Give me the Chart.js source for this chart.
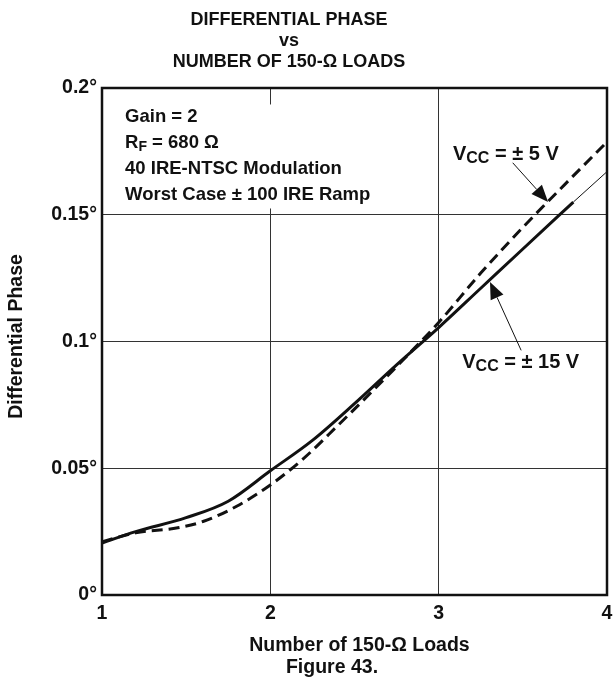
<!DOCTYPE html>
<html>
<head>
<meta charset="utf-8">
<script src="https://cdn.jsdelivr.net/npm/chart.js@4"></script>
<style>
  html, body { margin: 0; padding: 0; background: #fff; }
  #wrap { width: 614px; height: 681px; }
</style>
</head>
<body>
<div id="wrap"><canvas id="myChart" width="614" height="681"></canvas></div>
<script>
// VCC = +-15 V (solid)
const loads15 = [1, 1.2, 1.5, 1.75, 2, 2.25, 2.5, 2.75, 3, 3.25, 3.5, 3.8];
const phase15 = [0.0205, 0.0250, 0.0305, 0.0370, 0.0490, 0.0610, 0.0755, 0.0908, 0.1055, 0.1210, 0.1365, 0.1550];
// thin continuation of the solid curve
const loads15Ext = [3.8, 4];
const phase15Ext = [0.1550, 0.1670];
// VCC = +-5 V (dashed)
const loads5 = [1, 1.2, 1.45, 1.6, 1.8, 2, 2.2, 2.4, 2.6, 2.8, 3, 3.25, 3.5, 3.75, 4];
const phase5 = [0.0210, 0.0245, 0.0265, 0.0290, 0.0350, 0.0434, 0.0540, 0.0668, 0.0800, 0.0935, 0.1075, 0.1270, 0.1450, 0.1620, 0.1787];

const xTickLabels = ["1", "2", "3", "4"];
const yTickLabels = ["0°", "0.05°", "0.1°", "0.15°", "0.2°"];

const titleLines = ["DIFFERENTIAL PHASE", "vs", "NUMBER OF 150-Ω LOADS"];
const xTitle = "Number of 150-Ω Loads";
const yTitle = "Differential Phase";
const caption = "Figure 43.";

const FONT = "'Liberation Sans', Arial, Helvetica, sans-serif";

function toPoints (xs, ys) {
  return xs.map((x, i) => ({ x: x, y: ys[i] }));
}

// draws text with subscript parts, left aligned at baseline y
function drawRich (ctx, parts, x, y, size) {
  let cx = x;
  parts.forEach(p => {
    let fs = p.sub ? Math.round(size * 0.78) : size;
    ctx.font = `bold ${fs}px ${FONT}`;
    ctx.fillText(p.t, cx, p.sub ? y + 3 : y);
    cx += ctx.measureText(p.t).width;
  });
  return cx - x;
}

function arrow (ctx, x1, y1, x2, y2) {
  let ang = Math.atan2(y2 - y1, x2 - x1);
  let len = 17, half = 7;
  let bx = x2 - len * Math.cos(ang), by = y2 - len * Math.sin(ang);
  ctx.lineWidth = 1;
  ctx.beginPath();
  ctx.moveTo(x1, y1);
  ctx.lineTo(bx, by);
  ctx.stroke();
  ctx.beginPath();
  ctx.moveTo(x2, y2);
  ctx.lineTo(bx + half * Math.sin(ang), by - half * Math.cos(ang));
  ctx.lineTo(bx - half * Math.sin(ang), by + half * Math.cos(ang));
  ctx.closePath();
  ctx.fill();
}

const figureText = {
  id: "figureText",
  beforeDatasetsDraw (chart) {
    let ctx = chart.ctx;
    let xs = chart.scales.x, ys = chart.scales.y;
    ctx.save();
    ctx.fillStyle = "#fff";
    // box behind the conditions text
    ctx.fillRect(xs.getPixelForValue(1.09), ys.getPixelForValue(0.1935), 292, 104);
    // box behind the 5 V label
    ctx.fillRect(xs.getPixelForValue(3.01), ys.getPixelForValue(0.1785), 128, 24);
    ctx.restore();
  },
  afterDatasetsDraw (chart) {
    let ctx = chart.ctx;
    let xs = chart.scales.x, ys = chart.scales.y;
    let a = chart.chartArea;
    ctx.save();
    ctx.fillStyle = "#111";
    ctx.strokeStyle = "#111";

    // frame
    ctx.lineWidth = 2.5;
    ctx.strokeRect(a.left, a.top, a.right - a.left, a.bottom - a.top);

    // conditions
    let lx = xs.getPixelForValue(1.137);
    let ly = ys.getPixelForValue(0.1867);
    ctx.textBaseline = "alphabetic";
    ctx.textAlign = "left";
    drawRich(ctx, [{ t: "Gain = 2" }], lx, ly, 18.5);
    drawRich(ctx, [{ t: "R" }, { t: "F", sub: true }, { t: " = 680 Ω" }], lx, ly + 26, 18.5);
    drawRich(ctx, [{ t: "40 IRE-NTSC Modulation" }], lx, ly + 52, 18.5);
    drawRich(ctx, [{ t: "Worst Case ± 100 IRE Ramp" }], lx, ly + 78, 18.5);

    // curve labels
    drawRich(ctx, [{ t: "V" }, { t: "CC", sub: true }, { t: " = ± 5 V" }],
      xs.getPixelForValue(3.085), ys.getPixelForValue(0.1715), 20);
    drawRich(ctx, [{ t: "V" }, { t: "CC", sub: true }, { t: " = ± 15 V" }],
      xs.getPixelForValue(3.14), ys.getPixelForValue(0.0895), 20);

    // arrows
    arrow(ctx, xs.getPixelForValue(3.44), ys.getPixelForValue(0.1705),
      xs.getPixelForValue(3.65), ys.getPixelForValue(0.1550));
    arrow(ctx, xs.getPixelForValue(3.49), ys.getPixelForValue(0.0965),
      xs.getPixelForValue(3.305), ys.getPixelForValue(0.1235));
    ctx.restore();
  },
  afterDraw (chart) {
    let ctx = chart.ctx;
    let a = chart.chartArea;
    ctx.save();
    ctx.fillStyle = "#111";
    ctx.textAlign = "center";
    ctx.textBaseline = "middle";
    ctx.font = `bold 18px ${FONT}`;
    titleLines.forEach((t, i) => ctx.fillText(t, 289, 20 + i * 21));

    ctx.font = `bold 19.5px ${FONT}`;
    ctx.fillText(xTitle, (a.left + a.right) / 2 + 5, 646);
    ctx.fillText(caption, 332, 668);

    ctx.translate(17, (a.top + a.bottom) / 2 - 5);
    ctx.rotate(-Math.PI / 2);
    ctx.fillText(yTitle, 0, 0);
    ctx.restore();
  }
};

let ctx = document.getElementById("myChart");
let chart = new Chart(ctx, {
  type: "line",
  data: {
    datasets: [{
      label: "VCC = ±15 V",
      data: toPoints(loads15, phase15),
      borderColor: "#111",
      borderWidth: 3,
      pointRadius: 0,
      cubicInterpolationMode: "monotone",
      fill: false
    }, {
      label: "VCC = ±15 V ext",
      data: toPoints(loads15Ext, phase15Ext),
      borderColor: "#111",
      borderWidth: 1,
      pointRadius: 0,
      fill: false
    }, {
      label: "VCC = ±5 V",
      data: toPoints(loads5, phase5),
      borderColor: "#111",
      borderWidth: 3,
      borderDash: [11, 6],
      pointRadius: 0,
      cubicInterpolationMode: "monotone",
      fill: false
    }]
  },
  options: {
    responsive: false,
    animation: false,
    layout: { padding: { top: 88, right: 7, left: 0, bottom: 0 } },
    plugins: {
      legend: { display: false },
      tooltip: { enabled: false },
      title: { display: false }
    },
    scales: {
      x: {
        type: "linear",
        min: 1,
        max: 4,
        afterFit: (s) => { s.height = 86; s.paddingLeft = 0; s.paddingRight = 0; },
        border: { display: false },
        grid: { color: "#333", lineWidth: 1, drawTicks: false },
        ticks: {
          stepSize: 1,
          padding: 7,
          color: "#111",
          font: { family: FONT, size: 19.5, weight: "bold" },
          callback: (v) => xTickLabels[Math.round(v) - 1]
        }
      },
      y: {
        type: "linear",
        min: 0,
        max: 0.2,
        afterFit: (s) => { s.width = 102; s.paddingTop = 0; s.paddingBottom = 0; },
        border: { display: false },
        grid: { color: "#333", lineWidth: 1, drawTicks: false },
        ticks: {
          stepSize: 0.05,
          padding: 5,
          color: "#111",
          font: { family: FONT, size: 19.5, weight: "bold" },
          callback: (v) => yTickLabels[Math.round(v / 0.05)]
        }
      }
    }
  },
  plugins: [figureText]
});
</script>
</body>
</html>
